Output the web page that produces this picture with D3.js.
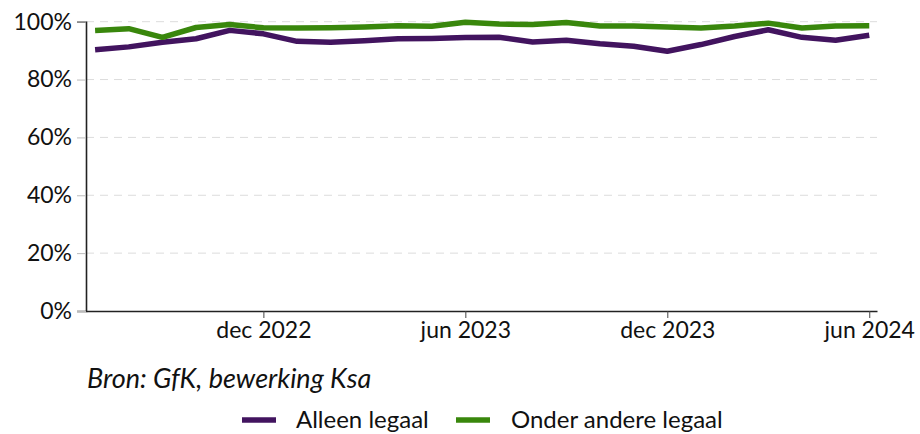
<!DOCTYPE html>
<html>
<head>
<meta charset="utf-8">
<script src="https://cdn.jsdelivr.net/npm/d3@7"></script>
<style>
  html, body { margin: 0; padding: 0; background: #fff; }
  svg { display: block; font-family: Lato, "Open Sans", sans-serif; }
</style>
</head>
<body>
<svg id="chart" width="920" height="434"></svg>
<script>
// ---- data ----
const months = ["jul 2022","aug 2022","sep 2022","okt 2022","nov 2022","dec 2022",
  "jan 2023","feb 2023","mrt 2023","apr 2023","mei 2023","jun 2023",
  "jul 2023","aug 2023","sep 2023","okt 2023","nov 2023","dec 2023",
  "jan 2024","feb 2024","mrt 2024","apr 2024","mei 2024","jun 2024"];
const alleenLegaal = [90.3, 91.3, 92.9, 94.1, 97.0, 95.8, 93.2, 92.9, 93.4, 94.1, 94.2, 94.5,
  94.6, 93.0, 93.6, 92.4, 91.5, 89.8, 92.1, 94.9, 97.2, 94.6, 93.6, 95.3];
const onderAndereLegaal = [97.0, 97.6, 94.6, 98.0, 99.0, 97.9, 97.8, 97.9, 98.2, 98.6, 98.4, 99.8,
  99.2, 99.0, 99.7, 98.5, 98.5, 98.2, 97.8, 98.5, 99.5, 97.8, 98.5, 98.6];
const yTicks = [0, 20, 40, 60, 80, 100];
const xTickLabels = ["dec 2022", "jun 2023", "dec 2023", "jun 2024"];
const seriesNames = ["Alleen legaal", "Onder andere legaal"];
const colors = ["#42145f", "#39870c"];
const sourceText = "Bron: GfK, bewerking Ksa";

// ---- layout ----
const svg = d3.select("#chart");
const mLeft = 86, mRight = 877, mTop = 21.7, mBottom = 311;

const x = d3.scaleLinear().domain([-0.27, 23.23]).range([mLeft, mRight]);
const y = d3.scaleLinear().domain([0, 100]).range([mBottom, mTop]);

// gridlines
svg.append("g")
  .selectAll("line")
  .data(yTicks.filter(d => d > 0))
  .join("line")
  .attr("x1", mLeft).attr("x2", mRight)
  .attr("y1", d => y(d)).attr("y2", d => y(d))
  .attr("stroke", "#dcdcdc")
  .attr("stroke-width", 1)
  .attr("stroke-dasharray", "8,6");

// y axis
const yAxis = svg.append("g")
  .attr("transform", `translate(${mLeft},0)`)
  .call(d3.axisLeft(y).tickValues(yTicks).tickFormat(d => d + "%").tickSize(9).tickPadding(5));
yAxis.select(".domain").attr("stroke", "#222").attr("stroke-width", 1.6);
yAxis.selectAll(".tick line").attr("stroke", "#bbb");
yAxis.selectAll(".tick text")
  .attr("font-size", 23).attr("fill", "#111")
  .attr("font-family", "Lato, sans-serif");

// x axis
const xTickIdx = xTickLabels.map(l => months.indexOf(l));
const xAxis = svg.append("g")
  .attr("transform", `translate(0,${mBottom})`)
  .call(d3.axisBottom(x).tickValues(xTickIdx).tickFormat(i => months[i]).tickSize(7).tickSizeOuter(0).tickPadding(4));
xAxis.select(".domain").attr("stroke", "#222").attr("stroke-width", 1.6);
xAxis.selectAll(".tick line").attr("stroke", "#444");
xAxis.selectAll(".tick text")
  .attr("font-size", 23).attr("fill", "#111")
  .attr("font-family", "Lato, sans-serif");

// lines
const line = d3.line().x((d, i) => x(i)).y(d => y(d));
[alleenLegaal, onderAndereLegaal].forEach((s, k) => {
  svg.append("path")
    .datum(s)
    .attr("fill", "none")
    .attr("stroke", colors[k])
    .attr("stroke-width", 5.5)
    .attr("stroke-linejoin", "round")
    .attr("d", line);
});

// source
svg.append("text")
  .attr("x", 87).attr("y", 388)
  .attr("font-size", 27).attr("font-style", "italic")
  .attr("fill", "#111")
  .text(sourceText);

// legend
const legendItems = [{x: 242, tx: 296}, {x: 456, tx: 511}];
seriesNames.forEach((n, k) => {
  const g = svg.append("g");
  g.append("line")
    .attr("x1", legendItems[k].x).attr("x2", legendItems[k].x + 34)
    .attr("y1", 420).attr("y2", 420)
    .attr("stroke", colors[k]).attr("stroke-width", 5.5);
  g.append("text")
    .attr("x", legendItems[k].tx).attr("y", 428)
    .attr("font-size", 24).attr("fill", "#111")
    .text(n);
});
</script>
</body>
</html>
